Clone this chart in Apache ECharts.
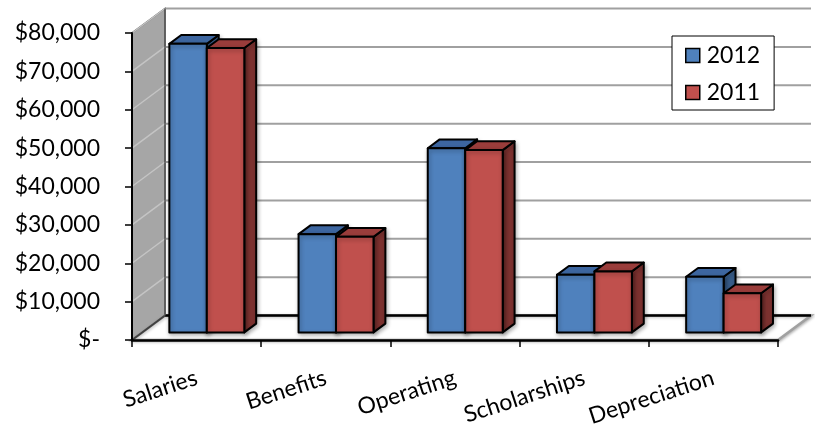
<!DOCTYPE html>
<html>
<head>
<meta charset="utf-8">
<script src="https://cdn.jsdelivr.net/npm/echarts@6/dist/echarts.min.js"></script>
<style>
  html, body { margin: 0; padding: 0; background: #fff; }
  #chart { width: 815px; height: 435px; }
</style>
</head>
<body>
<div id="chart"></div>
<script>
// Expense categories and yearly amounts
const categories = ['Salaries', 'Benefits', 'Operating', 'Scholarships', 'Depreciation'];
const values2012 = [75200, 25600, 48000, 15000, 14500];
const values2011 = [74100, 24900, 47500, 15900, 10200];
const seriesNames = ['2012', '2011'];
const valueTicks = [0, 10000, 20000, 30000, 40000, 50000, 60000, 70000, 80000];

// Oblique 3D look: depth vector from the front plane to the back wall
const DEPTH = { x: 33, y: -24.5 };
const FRONT_F = 0.31;   // where the bar fronts sit, as a fraction of the depth
const BAR_D = 0.36;     // bar depth, as a fraction of the depth
const BAR_FRAC = 0.29;  // bar width, as a fraction of the category band

const FONT = 'Lato';
const faces = [
  { front: '#4F81BD', top: '#3D66A0', side: '#385D8A' },
  { front: '#C0504D', top: '#9A3D3B', side: '#7D3230' }
];

function fmtMoney(v) {
  return v === 0 ? '$-' : '$' + v.toLocaleString('en-US');
}

// Side wall and floor
function renderWalls(params, api) {
  const cs = params.coordSys;
  const fl = cs.x, fr = cs.x + cs.width;
  const yb = api.coord([0, 0])[1];
  const yt = api.coord([0, valueTicks[valueTicks.length - 1]])[1];
  const dx = DEPTH.x, dy = DEPTH.y;
  return {
    type: 'group',
    children: [
      {
        type: 'polygon',
        shape: { points: [[fl, yb], [fl, yt], [fl + dx, yt + dy], [fl + dx, yb + dy]] },
        style: { fill: '#A6A6A6', stroke: '#595959', lineWidth: 1.5 }
      },
      {
        type: 'polygon',
        shape: { points: [[fl, yb], [fr, yb], [fr + dx, yb + dy], [fl + dx, yb + dy]] },
        style: { fill: '#fff', stroke: '#A0A0A0', lineWidth: 2.5,
                 shadowBlur: 3, shadowColor: 'rgba(0,0,0,0.25)', shadowOffsetX: 1, shadowOffsetY: 1 }
      }
    ]
  };
}

// Gridlines on the back wall and the side wall, one per tick value
function renderGrid(params, api) {
  const cs = params.coordSys;
  const fl = cs.x, fr = cs.x + cs.width;
  const v = api.value(0);
  const y = api.coord([0, v])[1];
  const dx = DEPTH.x, dy = DEPTH.y;
  const isFloor = v === 0;
  return {
    type: 'group',
    children: [
      {
        type: 'line',
        shape: { x1: fl + dx, y1: y + dy, x2: fr + dx, y2: y + dy },
        style: { stroke: isFloor ? '#000' : '#A0A0A0', lineWidth: isFloor ? 2.5 : 2 }
      },
      {
        type: 'line',
        shape: { x1: fl, y1: y, x2: fl + dx, y2: y + dy },
        style: { stroke: isFloor ? '#404040' : '#C4C4C4', lineWidth: isFloor ? 2 : 1.5 }
      },
      {
        type: 'line',
        shape: { x1: fl + dx, y1: y + dy, x2: fl + dx, y2: api.coord([0, 0])[1] + dy },
        style: { stroke: '#595959', lineWidth: 1.5 },
        invisible: v !== valueTicks[valueTicks.length - 1]
      }
    ]
  };
}

// 3D bar: front face, top face and right side face
function makeBarRenderer(idx) {
  const c = faces[idx];
  return function (params, api) {
    const cat = api.value(0), val = api.value(1);
    const band = api.size([1, 0])[0];
    const w = band * BAR_FRAC;
    const top = api.coord([cat, val]);
    const base = api.coord([cat, 0]);
    const ox = DEPTH.x * FRONT_F, oy = DEPTH.y * FRONT_F;
    const x0 = top[0] - w + idx * w + ox;
    const x1 = x0 + w;
    const yT = top[1] + oy, yB = base[1] + oy;
    const dx = DEPTH.x * BAR_D, dy = DEPTH.y * BAR_D;
    const edge = { stroke: '#000', lineWidth: 2, lineJoin: 'round' };
    return {
      type: 'group',
      children: [
        {
          type: 'polygon',
          shape: { points: [[x1, yB], [x1, yT], [x1 + dx, yT + dy], [x1 + dx, yB + dy]] },
          style: Object.assign({ fill: c.side, shadowBlur: 4, shadowColor: 'rgba(0,0,0,0.3)',
                                 shadowOffsetX: 1, shadowOffsetY: 2 }, edge)
        },
        {
          type: 'polygon',
          shape: { points: [[x0, yT], [x1, yT], [x1 + dx, yT + dy], [x0 + dx, yT + dy]] },
          style: Object.assign({ fill: c.top }, edge)
        },
        {
          type: 'rect',
          shape: { x: x0, y: yT, width: w, height: yB - yT },
          style: Object.assign({ fill: c.front, shadowBlur: 4, shadowColor: 'rgba(0,0,0,0.3)',
                                 shadowOffsetX: 1, shadowOffsetY: 2 }, edge)
        }
      ]
    };
  };
}

const chart = echarts.init(document.getElementById('chart'), null, { renderer: 'canvas' });

const option = {
  animation: false,
  backgroundColor: '#fff',
  textStyle: { fontFamily: FONT },
  grid: { left: 132, right: 37, top: 33, bottom: 95, containLabel: false },
  legend: {
    data: seriesNames,
    orient: 'vertical',
    left: 672,
    top: 36,
    padding: [8, 14, 6, 13],
    itemGap: 14,
    itemWidth: 14,
    itemHeight: 14,
    icon: 'rect',
    itemStyle: { borderColor: '#000', borderWidth: 1.5 },
    textStyle: { fontFamily: FONT, fontSize: 23, color: '#000', padding: [0, 0, 0, 2] },
    backgroundColor: '#fff',
    borderColor: '#000',
    borderWidth: 1,
    borderRadius: 0
  },
  xAxis: {
    type: 'category',
    data: categories,
    boundaryGap: true,
    z: 6,
    axisLine: { show: true, lineStyle: { color: '#000', width: 2.5 } },
    axisTick: { show: true, length: 7, lineStyle: { color: '#000', width: 1.5 } },
    axisLabel: { rotate: 18, margin: 37, fontFamily: FONT, fontSize: 23, color: '#000' },
    splitLine: { show: false }
  },
  yAxis: {
    type: 'value',
    min: 0,
    max: 80000,
    interval: 10000,
    z: 6,
    axisLine: { show: true, lineStyle: { color: '#000', width: 2 } },
    axisTick: { show: true, length: 7, lineStyle: { color: '#000', width: 1.5 } },
    axisLabel: { margin: 32, fontFamily: FONT, fontSize: 23, color: '#000', formatter: fmtMoney },
    splitLine: { show: false }
  },
  series: [
    {
      type: 'custom',
      name: 'walls',
      z: 1,
      silent: true,
      renderItem: renderWalls,
      data: [[0]],
      encode: { y: 0 }
    },
    {
      type: 'custom',
      name: 'gridlines',
      z: 2,
      silent: true,
      renderItem: renderGrid,
      data: valueTicks.map(v => [v]),
      encode: { y: 0 }
    },
    {
      type: 'custom',
      name: seriesNames[0],
      z: 3,
      itemStyle: { color: faces[0].front },
      renderItem: makeBarRenderer(0),
      data: categories.map((c, i) => [i, values2012[i]]),
      encode: { x: 0, y: 1 }
    },
    {
      type: 'custom',
      name: seriesNames[1],
      z: 4,
      itemStyle: { color: faces[1].front },
      renderItem: makeBarRenderer(1),
      data: categories.map((c, i) => [i, values2011[i]]),
      encode: { x: 0, y: 1 }
    }
  ]
};

chart.setOption(option);
</script>
</body>
</html>
